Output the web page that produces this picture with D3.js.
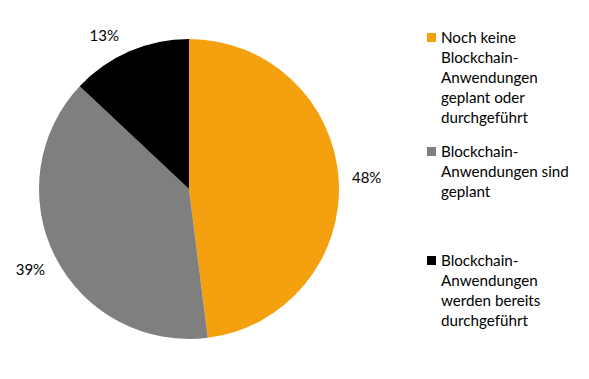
<!DOCTYPE html>
<html><head><meta charset="utf-8">
<script src="https://cdn.jsdelivr.net/npm/d3@7"></script>
<style>body{margin:0;background:#fff}svg{display:block}text{font-family:Lato,"Open Sans",sans-serif;fill:#000}</style>
</head><body>
<script>
const categories = [
  "Noch keine Blockchain-Anwendungen geplant oder durchgeführt",
  "Blockchain-Anwendungen sind geplant",
  "Blockchain-Anwendungen werden bereits durchgeführt"
];
const values = [48, 39, 13];
const percentLabels = ["48%", "39%", "13%"];
const legendLines = [
  ["Noch keine", "Blockchain-", "Anwendungen", "geplant oder", "durchgeführt"],
  ["Blockchain-", "Anwendungen sind", "geplant"],
  ["Blockchain-", "Anwendungen", "werden bereits", "durchgeführt"]
];
const colors = ["#F5A00F", "#7F7F7F", "#000000"];

const W = 589, H = 379;
const svg = d3.select("body").append("svg").attr("width", W).attr("height", H);
const cx = 189, cy = 189, R = 150;
const g = svg.append("g").attr("transform", `translate(${cx},${cy})`);
const pie = d3.pie().sort(null).value(d => d);
const arcs = pie(values);
const arc = d3.arc().innerRadius(0).outerRadius(R);
g.selectAll("path").data(arcs).join("path")
  .attr("d", arc).attr("fill", (d, i) => colors[i]);

const labelArc = d3.arc().innerRadius(178).outerRadius(178);
g.selectAll("text.pct").data(arcs).join("text").attr("class", "pct")
  .attr("transform", (d, i) => {
    let [x, y] = labelArc.centroid(d);
    // keep label inside top of plot area (Excel-like adjustment)
    if (y < -153) { const a = -0.505; x = 175 * Math.sin(a); y = -175 * Math.cos(a); }
    return `translate(${x},${y})`;
  })
  .attr("text-anchor", "middle").attr("dy", "0.35em")
  .style("font-size", "15px")
  .text((d, i) => percentLabels[i]);

const legendTops = [43, 157, 266];
const lg = svg.append("g");
legendLines.forEach((lines, i) => {
  lg.append("rect").attr("x", 427).attr("y", legendTops[i] - 10).attr("width", 9).attr("height", 9)
    .attr("fill", colors[i]);
  lines.forEach((t, j) => {
    lg.append("text").attr("x", 441).attr("y", legendTops[i] + j * 20)
      .style("font-size", "15.2px").text(t);
  });
});
</script>
</body></html>
